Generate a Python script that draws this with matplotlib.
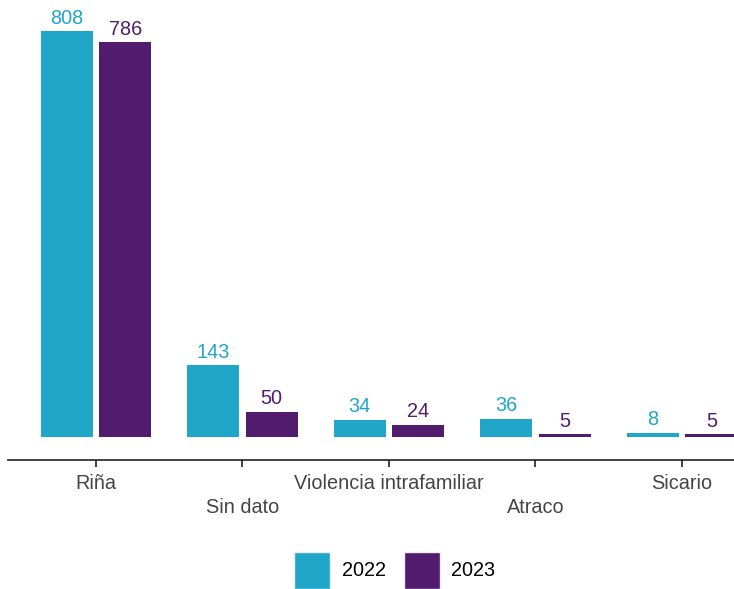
import matplotlib.pyplot as plt
from matplotlib.patches import Patch
import numpy as np

plt.rcParams['font.family'] = ['Liberation Sans', 'DejaVu Sans']

categories = ["Riña", "Sin dato", "Violencia intrafamiliar", "Atraco", "Sicario"]
years = ["2022", "2023"]
values_2022 = [808, 143, 34, 36, 8]
values_2023 = [786, 50, 24, 5, 5]

COLORS = {"2022": "#1fa6c9", "2023": "#521c6e"}
FS = 14.3


def main():
    fig = plt.figure(figsize=(7.34, 5.89), dpi=100)
    ax = fig.add_axes([8 / 734, 129 / 589, 1 - 8 / 734, (460 - 5) / 589])

    x = np.arange(len(categories))
    w = 0.355
    off = 0.2
    for vals, yr, sign in [(values_2022, "2022", -1), (values_2023, "2023", 1)]:
        bars = ax.bar(x + sign * off, vals, width=w, color=COLORS[yr], label=yr)
        ax.bar_label(bars, labels=[str(v) for v in vals], padding=2.5,
                     color=COLORS[yr], fontsize=FS)

    ax.set_xlim(-0.6, 4.355)
    ax.set_ylim(-46, 860)
    ax.set_yticks([])
    for s in ["top", "right", "left"]:
        ax.spines[s].set_visible(False)
    ax.spines["bottom"].set_color("#222222")
    ax.spines["bottom"].set_linewidth(1.2)

    ax.set_xticks(x)
    ax.set_xticklabels(categories)
    ax.tick_params(axis="x", length=5, width=1.2, color="#222222",
                   labelsize=FS, labelcolor="#444444", pad=5)
    for i, lab in enumerate(ax.get_xticklabels()):
        if i % 2 == 1:
            lab.set_y(-0.052)

    handles = [Patch(facecolor=COLORS[y], edgecolor="#eeeeee", label=y) for y in years]
    fig.legend(handles=handles, loc="lower center", ncol=2, frameon=False,
               bbox_to_anchor=(0.538, -0.03), fontsize=FS,
               handlelength=1.8, handleheight=2.48, handletextpad=0.6,
               columnspacing=0.9)

    fig.savefig("out.png", dpi=100)


if __name__ == "__main__":
    main()
